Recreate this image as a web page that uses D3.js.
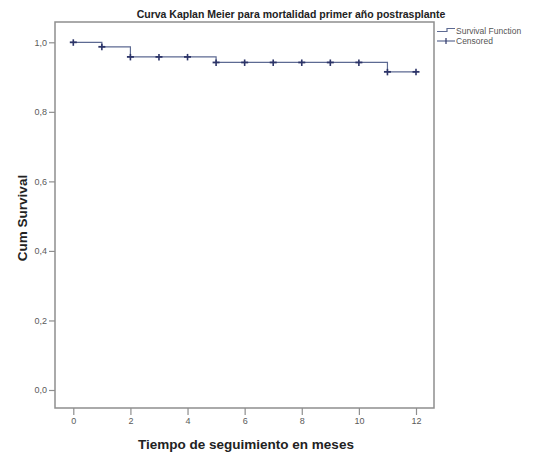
<!DOCTYPE html>
<html><head><meta charset="utf-8">
<script src="https://cdn.jsdelivr.net/npm/d3@7"></script>
<style>body{margin:0;background:#fff}svg{display:block}</style>
</head><body>
<script>
const stepTimes = [0, 1, 2, 5, 11, 12];
const stepSurvival = [1.0, 0.987, 0.958, 0.942, 0.915, 0.915];
const censorTimes = [0, 1, 2, 3, 4, 5, 6, 7, 8, 9, 10, 11, 12];
const xTicks = [0, 2, 4, 6, 8, 10, 12];
const yTicks = [0, 0.2, 0.4, 0.6, 0.8, 1.0];
const title = "Curva Kaplan Meier para mortalidad primer año postrasplante";
const xTitle = "Tiempo de seguimiento en meses";
const yTitle = "Cum Survival";
const legendLabels = ["Survival Function", "Censored"];

const W = 535, H = 456;
const svg = d3.select("body").append("svg").attr("width", W).attr("height", H);
const frame = {l: 55, r: 434, t: 22, b: 408};
const x = d3.scaleLinear().domain([0, 12]).range([73.3, 416]);
const y = d3.scaleLinear().domain([0, 1]).range([390, 42.3]);
const lineCol = "#5d6a92", markCol = "#2c3468", axisCol = "#8e8e8e";
const ff = "Liberation Sans, Arial, sans-serif";

svg.append("rect").attr("x", frame.l).attr("y", frame.t)
  .attr("width", frame.r - frame.l).attr("height", frame.b - frame.t)
  .attr("fill", "#fff").attr("stroke", axisCol).attr("stroke-width", 1.5);

const fmt = d => d3.format(".1f")(d).replace(".", ",");
const yAxis = svg.append("g").attr("transform", `translate(${frame.l},0)`)
  .call(d3.axisLeft(y).tickValues(yTicks).tickFormat(fmt).tickSize(6).tickPadding(2));
const xAxis = svg.append("g").attr("transform", `translate(0,${frame.b})`)
  .call(d3.axisBottom(x).tickValues(xTicks).tickSize(7).tickPadding(3));
[xAxis, yAxis].forEach(g => {
  g.select(".domain").remove();
  g.selectAll("line").attr("stroke", axisCol).attr("stroke-width", 1.2);
  g.selectAll("text").attr("fill", "#5a5a5a").style("font-family", ff).style("font-size", "9px");
});

// survival step line
const pts = stepTimes.map((t, i) => [t, stepSurvival[i]]);
const line = d3.line().x(d => x(d[0])).y(d => y(d[1])).curve(d3.curveStepAfter);
svg.append("path").datum(pts).attr("d", line).attr("fill", "none")
  .attr("stroke", lineCol).attr("stroke-width", 1.2);

// censor marks
const survAt = t => { let s = 1; stepTimes.forEach((st, i) => { if (st <= t) s = stepSurvival[i]; }); return s; };
const marks = svg.append("g");
censorTimes.forEach(t => {
  const cx = x(t), cy = y(survAt(t));
  marks.append("line").attr("x1", cx - 3.5).attr("x2", cx + 3.5).attr("y1", cy).attr("y2", cy)
    .attr("stroke", markCol).attr("stroke-width", 1.8);
  marks.append("line").attr("x1", cx).attr("x2", cx).attr("y1", cy - 3).attr("y2", cy + 3.5)
    .attr("stroke", markCol).attr("stroke-width", 1.6);
});

// titles
svg.append("text").attr("x", 291).attr("y", 18).attr("text-anchor", "middle")
  .style("font-family", ff).style("font-size", "10.5px")
  .style("font-weight", "bold").attr("fill", "#222").text(title);
svg.append("text").attr("x", 246).attr("y", 449).attr("text-anchor", "middle")
  .style("font-family", ff).style("font-size", "13.5px")
  .style("font-weight", "bold").attr("fill", "#222").text(xTitle);
svg.append("text").attr("transform", "translate(27,218) rotate(-90)").attr("text-anchor", "middle")
  .style("font-family", ff).style("font-size", "13.5px")
  .style("font-weight", "bold").attr("fill", "#222").text(yTitle);

// legend
const lg = svg.append("g");
lg.append("path").attr("d", "M437,31.5 H447 V28.5 H455").attr("fill", "none").attr("stroke", lineCol).attr("stroke-width", 1.2);
lg.append("line").attr("x1", 437).attr("x2", 455).attr("y1", 41).attr("y2", 41).attr("stroke", lineCol).attr("stroke-width", 1.2);
lg.append("line").attr("x1", 446).attr("x2", 446).attr("y1", 38).attr("y2", 44).attr("stroke", markCol).attr("stroke-width", 1.2);
legendLabels.forEach((l, i) => {
  lg.append("text").attr("x", 456).attr("y", 33.5 + i * 10).text(l)
    .style("font-family", ff).style("font-size", "8.5px").attr("fill", "#555");
});
</script>
</body></html>
